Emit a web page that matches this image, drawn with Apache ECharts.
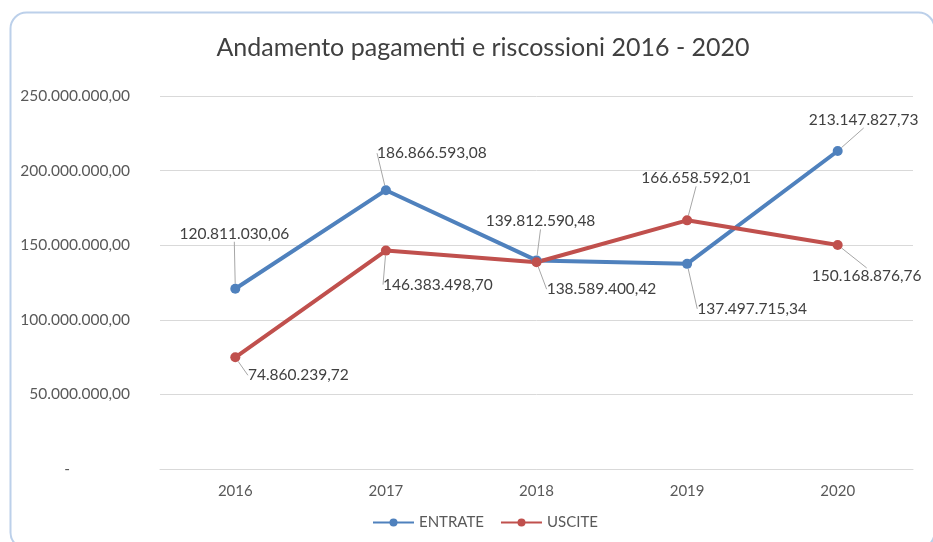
<!DOCTYPE html>
<html><head><meta charset="utf-8">
<script src="https://cdn.jsdelivr.net/npm/echarts@6/dist/echarts.min.js"></script>
<style>html,body{margin:0;padding:0;background:#fff}#c{width:933px;height:542px}</style>
</head><body><div id="c"></div>
<script>
const categories = ['2016', '2017', '2018', '2019', '2020'];
const entrate = [120811030.06, 186866593.08, 139812590.48, 137497715.34, 213147827.73];
const uscite = [74860239.72, 146383498.70, 138589400.42, 166658592.01, 150168876.76];
const yTicks = [0, 50000000, 100000000, 150000000, 200000000, 250000000];

// label offsets (style only): [dx, dy] relative to point
const entrateOffsets = [[-1,-55],[46,-37],[4,-39],[65,45],[26,-31]];
const usciteOffsets = [[63,18],[52,34],[65,27],[9,-42],[29,31]];

function fmt(v){
  const neg = v < 0; v = Math.abs(v);
  const s = v.toFixed(2);
  let [i, d] = s.split('.');
  i = i.replace(/\B(?=(\d{3})+(?!\d))/g, '.');
  return (neg ? '-' : '') + i + ',' + d;
}
const FONT = 'Lato, "Open Sans", sans-serif';
const chart = echarts.init(document.getElementById('c'));
const labelCfg = {
  show: true, position: 'inside', color: '#404040', fontSize: 15.5, fontFamily: FONT,
  formatter: p => fmt(p.value)
};
chart.setOption({
  animation: false,
  title: {
    text: 'Andamento pagamenti e riscossioni 2016 - 2020',
    left: 478, top: 30, textAlign: 'center',
    textStyle: { fontSize: 25, fontWeight: 'normal', color: '#404040', fontFamily: FONT }
  },
  graphic: [{
    type: 'rect', shape: { x: 10.5, y: 12.5, width: 924, height: 536, r: 16 },
    style: { fill: 'none', stroke: '#bcd0ea', lineWidth: 2 }, silent: true, z: -1
  }],
  legend: {
    top: 510, left: 367, itemWidth: 41, itemHeight: 10, itemGap: 16,
    textStyle: { fontSize: 15, color: '#595959', fontFamily: FONT },
    data: ['ENTRATE', 'USCITE']
  },
  grid: { left: 160, right: 20, top: 96, bottom: 73 },
  xAxis: {
    type: 'category', data: categories, boundaryGap: true,
    axisLine: { lineStyle: { color: '#d9d9d9' } }, axisTick: { show: false },
    axisLabel: { color: '#595959', fontSize: 15, fontFamily: FONT, margin: 15 }
  },
  yAxis: {
    type: 'value', min: yTicks[0], max: yTicks[yTicks.length-1], interval: 50000000,
    axisLine: { show: false }, axisTick: { show: false },
    splitLine: { lineStyle: { color: '#d9d9d9' } },
    axisLabel: {
      color: '#595959', fontSize: 15.5, fontFamily: FONT, margin: 30,
      formatter: v => v === 0 ? '{d|-}' : fmt(v),
      rich: { d: { padding: [0, 60, 0, 0], color: '#595959', fontSize: 15.5 } }
    }
  },
  series: [
    {
      name: 'ENTRATE', type: 'line', data: entrate, color: '#4f81bd',
      lineStyle: { width: 4 }, symbol: 'circle', symbolSize: 10,
      label: labelCfg,
      labelLine: { show: true, lineStyle: { color: '#a6a6a6', width: 1 } },
      labelLayout: p => ({ dx: entrateOffsets[p.dataIndex][0], dy: entrateOffsets[p.dataIndex][1] })
    },
    {
      name: 'USCITE', type: 'line', data: uscite, color: '#c0504d',
      lineStyle: { width: 4 }, symbol: 'circle', symbolSize: 10,
      label: labelCfg,
      labelLine: { show: true, lineStyle: { color: '#a6a6a6', width: 1 } },
      labelLayout: p => ({ dx: usciteOffsets[p.dataIndex][0], dy: usciteOffsets[p.dataIndex][1] })
    }
  ]
});
</script></body></html>
